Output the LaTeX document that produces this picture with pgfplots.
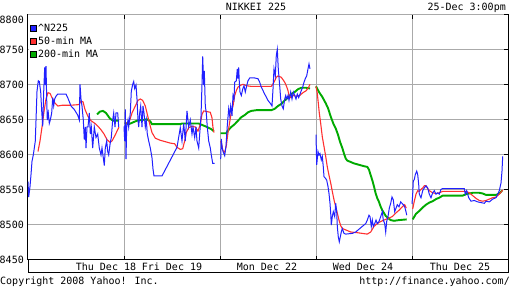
\documentclass[border=0pt]{standalone}
\usepackage{pgfplots}
\pgfplotsset{compat=1.18}
\usepackage{fontspec}
\setmainfont{DejaVu Sans Mono}
\definecolor{yblue}{RGB}{32,32,255}
\definecolor{yred}{RGB}{255,48,48}
\definecolor{ygreen}{RGB}{0,170,0}
\definecolor{ygrid}{RGB}{170,170,170}
\newcommand{\yf}{\fontsize{10}{12}\selectfont}
\begin{document}
\yf
\begin{tikzpicture}[x=1pt,y=1pt]
\useasboundingbox (0,0) rectangle (512,288);
\begin{axis}[
  at={(28pt,28pt)}, anchor=south west,
  width=480pt, height=245pt, scale only axis,
  xmin=28, xmax=508, ymin=8450, ymax=8800,
  xtick={124,220,316,412}, xticklabels={},
  ytick={8450,8500,8550,8600,8650,8700,8750},
  extra y ticks={8800},
  extra y tick style={yticklabel style={yshift=-5pt}},
  ytick pos=right, yticklabel pos=left,
  grid=major,
  grid style={ygrid, line width=1pt},
  axis line style={black, line width=1pt},
  tick style={black, line width=1pt},
  tick align=inside,
  major tick length=4pt,
  yticklabel style={font=\yf, inner sep=0pt, xshift=-4pt},
  /pgf/number format/assume math mode=true,
  /pgf/number format/1000 sep={},
  unbounded coords=jump,
  reverse legend,
  legend cell align=left,
  legend style={at={(0,1)}, anchor=north west, yshift=-7pt, xshift=1pt,
    draw=none, fill=white, font=\yf, inner xsep=1pt, inner ysep=0pt,
    row sep=0pt,
    nodes={inner sep=1pt, text height=8pt, text depth=3pt}},
  legend image code/.code={\filldraw[#1, draw=black, line width=0.8pt] (0pt,-3pt) rectangle (6pt,3pt);},
]
% 200-min MA
\addplot[ygreen, line width=1.9pt] coordinates {
(97,8658)(100,8662)(103,8663)(106,8660)(110,8652)(113,8649)(119,8649)
(121,nan)
(124.7,8646)(128.7,8644)(132,8646)(137,8649)(142,8650)(147,8651)(150.3,8648)(152,8644)(180.3,8644)(182,8645)(198.7,8645)(202,8643)(207,8640)(211.3,8637)(213.7,8634)
(217,nan)
(220.7,8631)(226.3,8631)(228,8635)(231.3,8640)(234.7,8644)(238,8649)(241.3,8654)(244.7,8657)(248,8661)(251.3,8663)(256.3,8664)(271.3,8664)(274.7,8666)(278,8670)(281.3,8673)(284.7,8678)(288,8682)(291.3,8687)(294.7,8690)(298,8694)(301.3,8696)(306.3,8696)(310,8695)
(313,nan)
(316,8698)(319,8690)(322.3,8683)(325.7,8674)(328,8667)(330.7,8655)(333.3,8645)(335.7,8638)(338,8629)(340,8619)(342.3,8610)(344,8602)(345.7,8595)(347.3,8592)(350.7,8590)(354,8588)(359,8586)(364,8584)(367.3,8583)(369,8579)(370.7,8571)(372.3,8564)(374,8555)(375.7,8545)(377.3,8538)(379,8533)(380.7,8526)(382.3,8521)(384,8517)(385.7,8513)(388,8510)(390.7,8507)(394,8506)(399,8507)(406.7,8508)
(409,nan)
(412.7,8508)(416,8516)(419.3,8520)(422.7,8525)(426,8529)(429.3,8532)(432.7,8534)(436,8537)(439.3,8539)(442.7,8542)(446,8542)(462.7,8542)(466,8544)(469.3,8545)(472.7,8546)(479.3,8546)(482.7,8545)(486,8543)(496,8543)(499.3,8545)(502,8549)
};
\addlegendentry{200-min MA}
% 50-min MA
\addplot[yred, line width=1.1pt] coordinates {
(38,8605)(40,8620)(42,8640)(44,8662)(46,8680)(48,8689)(50,8688)(52,8682)(55,8674)(58,8670)(62,8671)(70,8671)(79,8672)(81,8677)(83,8676)(85,8665)(88,8655)(91,8649)(95,8645)(98,8641)(101,8636)(104,8630)(107,8622)(110,8618)(112,8620)(115,8628)(119,8640)
(121,nan)
(124.7,8646)(128.7,8645)(132,8660)(135.3,8670)(138,8678)(140.3,8680)(142.7,8678)(145.3,8670)(147,8660)(148.7,8650)(150.3,8641)(152,8632)(155.3,8624)(160.3,8621)(165.3,8619)(170.3,8617)(174.7,8616)(177,8611)(180.3,8608)(182.7,8609)(184.7,8620)(186.3,8632)(188.7,8639)(192,8641)(195.3,8640)(198,8634)(200.3,8644)(202,8658)(203.7,8663)(207,8662)(210.3,8661)(212,8653)(213,8639)(214,8632)
(217,nan)
(220.7,8620)(222,8613)(223,8606)(224.7,8604)(226.3,8613)(228,8632)(229.7,8647)(231.3,8661)(233,8670)(234.7,8685)(236.3,8692)(238,8697)(239.7,8699)(243,8701)(246.3,8699)(251.3,8698)(261.3,8698)(271.3,8698)(274,8704)(276.3,8711)(278,8713)(281.3,8711)(284.7,8704)(286.3,8699)(288,8692)(289,8685)(290.7,8682)(293,8685)(296.3,8684)(299.7,8685)(303,8689)(306.3,8692)(308.7,8697)(310,8701)
(313,nan)
(316,8698)(317.3,8688)(318.3,8674)(319.3,8660)(320.7,8645)(322.3,8626)(324,8612)(325.7,8598)(327.3,8583)(329,8571)(330.7,8560)(332.3,8548)(334,8536)(335.7,8526)(337.3,8517)(339,8507)(340.7,8499)(342.3,8495)(345.7,8493)(350.7,8490)(357.3,8489)(362.3,8488)(367.3,8487)(370.7,8490)(374,8498)(377.3,8502)(380.7,8505)(384,8507)(389,8510)(392.3,8512)(395.7,8517)(399,8521)(402.3,8526)(404.7,8529)(406.3,8524)
(409,nan)
(412.7,8523)(414.3,8534)(416,8544)(417.7,8549)(419.3,8548)(421,8551)(422.7,8553)(424.3,8556)(426,8556)(427.7,8552)(429.3,8549)(432.7,8546)(436,8545)(439.3,8546)(442.7,8548)(462.7,8548)(466,8548)(469.3,8546)(472.7,8542)(476,8538)(479.3,8535)(482.7,8534)(486,8535)(489.3,8537)(492.7,8539)(496,8540)(499.3,8544)(502.7,8550)
};
\addlegendentry{50-min MA}
% ^N225
\addplot[yblue, line width=1pt] coordinates {
(28,8562)(28.7,8540)(30,8555)(31,8572)(32,8591)(33.3,8600)(35.3,8620)(36,8649)(37,8691)(38.3,8706)(39.3,8705)(40.7,8690)(41.7,8663)(42.7,8641)(43.7,8690)(44.7,8725)(45.3,8700)(46,8727)(46.7,8680)(47.3,8650)(48.3,8660)(49.3,8645)(50.3,8650)(51.7,8660)(52.7,8682)(53.7,8670)(54.7,8680)(56,8684)(57.7,8687)(66,8687)(67.7,8682)(71,8670)(74.3,8665)(77.7,8657)(79.3,8650)(80,8701)(81,8680)(82,8670)(83.3,8650)(84.3,8622)(85.3,8640)(86,8610)(87,8640)(88,8640)(89.3,8660)(90.3,8630)(91.3,8640)(92.7,8610)(94.3,8640)(96,8625)(97.7,8630)(99.3,8610)(101,8600)(102,8610)(103.3,8596)(104.3,8585)(105.3,8610)(106.7,8620)(107.7,8605)(108.7,8600)(110,8615)(111.3,8625)(112.7,8650)(113.7,8660)(115,8640)(116,8660)(117.7,8660)(118.7,8640)
(121,nan)
(124,8641)(124.7,8620)(125.3,8665)(126,8594)(126.7,8640)(128,8650)(128.7,8640)(130.3,8660)(131.3,8691)(132.7,8701)(133.7,8705)(134.7,8695)(136,8700)(137,8680)(138,8650)(138.7,8640)(139.7,8660)(140.7,8670)(142,8640)(143,8670)(144,8660)(145.3,8640)(146.3,8650)(147.3,8630)(148.7,8620)(150.3,8610)(152,8596)(153,8580)(154,8570)(162,8570)(177,8611)(180.3,8639)(182,8620)(183.7,8645)(185.3,8620)(187,8663)(188.7,8640)(190.3,8650)(192,8630)(193,8640)(194.7,8625)(196,8640)(197,8620)(198.7,8610)(199.7,8630)(201,8655)(202,8701)(202.7,8741)(203.7,8700)(204.3,8720)(205.3,8670)(206.3,8660)(207.3,8640)(208.7,8620)(210.3,8610)(211.3,8600)(212.7,8588)(214.7,8588)
(217,nan)
(220.7,8594)(221.3,8623)(222.3,8609)(223.3,8604)(224.7,8599)(226,8613)(227.3,8642)(228.7,8666)(229.7,8656)(230.7,8670)(232,8656)(233,8685)(234,8680)(234.7,8704)(236.3,8706)(237.3,8723)(238,8709)(238.7,8725)(239.3,8704)(240,8690)(241.3,8685)(242.7,8694)(244,8699)(245.3,8690)(246.7,8699)(248,8706)(249.7,8710)(254.7,8710)(258,8709)(259.7,8704)(261.3,8697)(264.7,8687)(268,8678)(270.7,8673)(272,8670)(273,8694)(274,8723)(275.3,8713)(276.3,8742)(277.3,8751)(278.3,8723)(279.7,8699)(280.7,8680)(282,8670)(283.3,8666)(284.7,8680)(285.7,8685)(286.7,8680)(288,8685)(289,8678)(290.7,8690)(292,8680)(293.3,8690)(294.7,8685)(296,8680)(297.3,8687)(298.7,8682)(300,8687)(301.3,8692)(302.7,8697)(304,8704)(305.3,8709)(306.7,8713)(308,8723)(309,8730)(310,8723)
(313,nan)
(316,8629)(316.7,8586)(318,8605)(319,8600)(320,8602)(321.3,8593)(322.3,8598)(323.3,8583)(324,8569)(325.3,8567)(326.7,8564)(328,8555)(329,8545)(330,8531)(330.7,8517)(331.3,8500)(332.3,8512)(333.3,8519)(334.7,8512)(335.7,8531)(336.7,8519)(337.3,8498)(338.3,8483)(339.3,8476)(340.3,8483)(341.3,8490)(342.3,8495)(344,8488)(345.7,8487)(352.3,8488)(355.7,8490)(359,8494)(362.3,8498)(364,8500)(365.7,8502)(367.3,8507)(369,8514)(370,8512)(371.3,8498)(372.3,8507)(373.3,8498)(374.7,8502)(376,8507)(377.3,8502)(379,8505)(380.7,8512)(382.3,8519)(383.3,8507)(384.7,8502)(385.7,8490)(386.7,8505)(388,8512)(389.3,8524)(390.7,8531)(392,8540)(393.3,8536)(394.7,8519)(396,8524)(397.3,8529)(399,8526)(400.7,8533)(402,8531)(403.3,8529)(404.7,8526)(406,8519)(406.7,8514)
(409,nan)
(412,8530)(412.7,8544)(413.3,8563)(414.3,8565)(415.3,8572)(416.7,8577)(417.7,8572)(418.7,8558)(419.3,8544)(421,8539)(422.7,8549)(424.3,8553)(426,8556)(427.7,8553)(429.3,8544)(431,8539)(432.7,8546)(434.3,8549)(436,8544)(437.7,8546)(439.3,8544)(441,8551)(442.7,8552)(464.3,8552)(465.3,8544)(466.7,8549)(468.7,8539)(471,8534)(474.3,8535)(477.7,8533)(481,8532)(484.3,8531)(486,8534)(489.3,8533)(492.7,8537)(496,8539)(497.7,8544)(499.3,8549)(501,8560)(502,8577)(502.7,8598)
};
\addlegendentry{\textasciicircum N225}
\end{axis}
% date strip
\draw[black, line width=1pt] (28,28) -- (28,15) -- (508,15) -- (508,28);
\node[anchor=base, inner sep=0pt] at (106,17) {Thu Dec 18};
\node[anchor=base, inner sep=0pt] at (172,17) {Fri Dec 19};
\node[anchor=base, inner sep=0pt] at (267,17) {Mon Dec 22};
\node[anchor=base, inner sep=0pt] at (363,17) {Wed Dec 24};
\node[anchor=base, inner sep=0pt] at (460,17) {Thu Dec 25};
% titles
\node[anchor=base, inner sep=0pt] at (256,277) {NIKKEI 225};
\node[anchor=base east, inner sep=0pt] at (506,277) {25-Dec 3:00pm};
% footer
\node[anchor=base west, inner sep=0pt] at (0,3) {Copyright 2008 Yahoo! Inc.};
\node[anchor=base east, inner sep=0pt] at (510,3) {http://finance.yahoo.com/};
\end{tikzpicture}
\end{document}
